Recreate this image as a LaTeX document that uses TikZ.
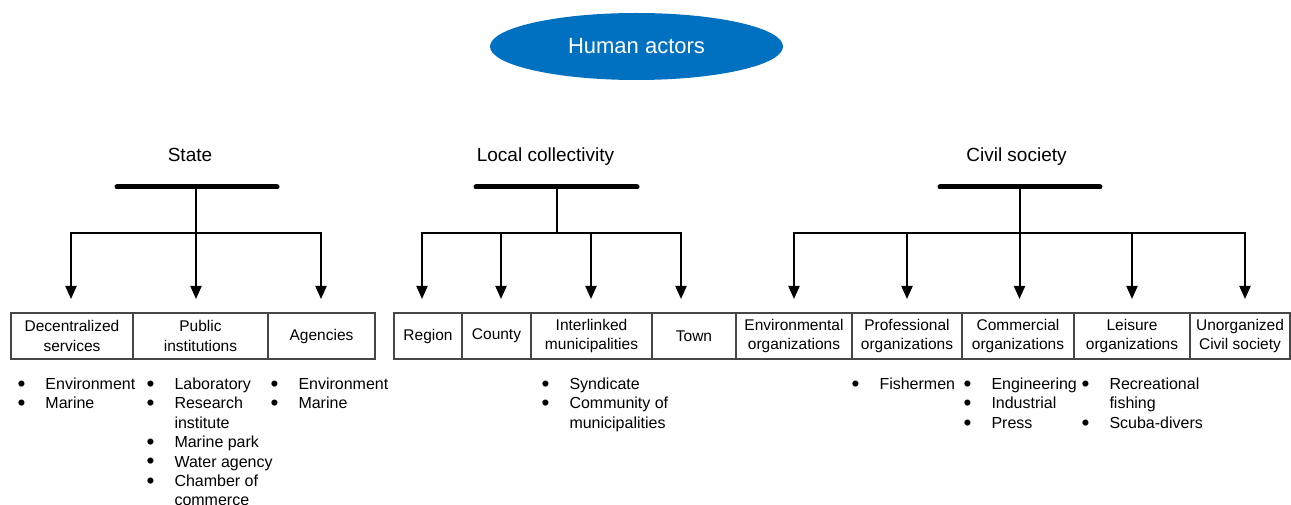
\documentclass[tikz,border=0pt]{standalone}
\usepackage{fontspec}
\usepackage{graphicx}
\setmainfont{Liberation Sans}
\usetikzlibrary{arrows.meta,shapes.geometric}
\definecolor{hblue}{RGB}{0,112,192}
\definecolor{boxline}{RGB}{70,70,70}
\newcommand{\bu}{\makebox[27bp][l]{\hspace{-0.8bp}\raisebox{-1.9bp}{\scalebox{1.4}{•}}}}
\begin{document}
\begin{tikzpicture}[x=1bp,y=-1bp,
  txt/.style={font=\fontsize{15.5bp}{19.4bp}\selectfont},
  ltxt/.style={font=\fontsize{16bp}{19.4bp}\selectfont},
  box/.style={txt,draw=boxline,line width=1.2bp,minimum height=46bp,inner sep=0pt,align=center,rectangle},
  head/.style={font=\fontsize{19bp}{23bp}\selectfont,inner sep=0pt,anchor=base},
  bar/.style={line width=5bp,line cap=round},
  conn/.style={line width=2bp},
  arr/.style={line width=2bp,-{Triangle[width=11bp,length=13bp]}},
  blist/.style={ltxt,anchor=base west,inner sep=0pt}
]
\useasboundingbox (0,0) rectangle (1291,505);

% title
\node[ellipse,fill=hblue,text=white,minimum width=293bp,minimum height=67bp,inner sep=0pt,
      font=\fontsize{22bp}{26bp}\selectfont] (ha) at (636.5,46.5) {Human actors};

% headings
\node[head] (state) at (190,162) {State};
\node[head] (local) at (545.5,162) {Local collectivity};
\node[head] (civil) at (1016.5,162) {Civil society};

% ---- State tree
\coordinate (sL) at (117,187); \coordinate (sR) at (277,187);
\coordinate (sM) at (196,187); \coordinate (sJ) at (196,233);
\coordinate (sA1) at (71,299); \coordinate (sA2) at (196,299); \coordinate (sA3) at (321,299);
\draw[bar] (sL) -- (sR);
\draw[conn] (sM) -- (sJ);
\draw[arr] (sJ) -| (sA1);
\draw[arr] (sJ) -- (sA2);
\draw[arr] (sJ) -| (sA3);

% ---- Local tree
\coordinate (lL) at (476,187); \coordinate (lR) at (637,187);
\coordinate (lM) at (557,187); \coordinate (lJ) at (557,233);
\coordinate (lA1) at (422,299); \coordinate (lA2) at (501,299);
\coordinate (lA3) at (591,299); \coordinate (lA4) at (681,299);
\draw[bar] (lL) -- (lR);
\draw[conn] (lM) -- (lJ);
\draw[arr] (lJ) -| (lA1);
\draw[arr] (lJ) -| (lA2);
\draw[arr] (lJ) -| (lA3);
\draw[arr] (lJ) -| (lA4);

% ---- Civil tree
\coordinate (cL) at (940,187); \coordinate (cR) at (1100,187);
\coordinate (cM) at (1019.5,187); \coordinate (cJ) at (1019.5,233);
\coordinate (cA1) at (794,299); \coordinate (cA2) at (907,299);
\coordinate (cA3) at (1019.5,299); \coordinate (cA4) at (1132,299);
\coordinate (cA5) at (1245,299);
\draw[bar] (cL) -- (cR);
\draw[conn] (cM) -- (cJ);
\draw[arr] (cJ) -| (cA1);
\draw[arr] (cJ) -| (cA2);
\draw[arr] (cJ) -- (cA3);
\draw[arr] (cJ) -| (cA4);
\draw[arr] (cJ) -| (cA5);

% ---- boxes
\node[box,minimum width=122bp] (b1) at (72,336) {Decentralized\\services};
\node[box,minimum width=135bp] (b2) at (200.5,336) {Public\\institutions};
\node[box,minimum width=107bp] (b3) at (321.5,336) {Agencies};

\node[box,minimum width=68bp] (b4) at (428,336) {Region};
\node[box,minimum width=69bp] (b5) at (496.5,336) {County};
\node[box,minimum width=121bp] (b6) at (591.5,336) {Interlinked\\municipalities};
\node[box,minimum width=84bp] (b7) at (694,336) {Town};

\node[box,minimum width=116bp] (b8) at (794,336) {Environmental\\organizations};
\node[box,minimum width=110bp] (b9) at (907,336) {Professional\\organizations};
\node[box,minimum width=112bp] (b10) at (1018,336) {Commercial\\organizations};
\node[box,minimum width=116bp] (b11) at (1132,336) {Leisure\\organizations};
\node[box,minimum width=100bp] (b12) at (1240,336) {Unorganized\\Civil society};

% ---- bullet lists
\node[blist] (l1) at (18.3,389.5) {\begin{tabular}[t]{@{}l@{}l@{}}\bu&Environment\\\bu&Marine\end{tabular}};
\node[blist] (l2) at (147.3,389.5) {\begin{tabular}[t]{@{}l@{}l@{}}\bu&Laboratory\\\bu&Research\\&institute\\\bu&Marine park\\\bu&Water agency\\\bu&Chamber of\\&commerce\end{tabular}};
\node[blist] (l3) at (271.3,389.5) {\begin{tabular}[t]{@{}l@{}l@{}}\bu&Environment\\\bu&Marine\end{tabular}};
\node[blist] (l4) at (542.3,389.5) {\begin{tabular}[t]{@{}l@{}l@{}}\bu&Syndicate\\\bu&Community of\\&municipalities\end{tabular}};
\node[blist] (l5) at (852.3,389.5) {\begin{tabular}[t]{@{}l@{}l@{}}\bu&Fishermen\end{tabular}};
\node[blist] (l6) at (964.3,389.5) {\begin{tabular}[t]{@{}l@{}l@{}}\bu&Engineering\\\bu&Industrial\\\bu&Press\end{tabular}};
\node[blist] (l7) at (1082.3,389.5) {\begin{tabular}[t]{@{}l@{}l@{}}\bu&Recreational\\&fishing\\\bu&Scuba-divers\end{tabular}};
\end{tikzpicture}
\end{document}
